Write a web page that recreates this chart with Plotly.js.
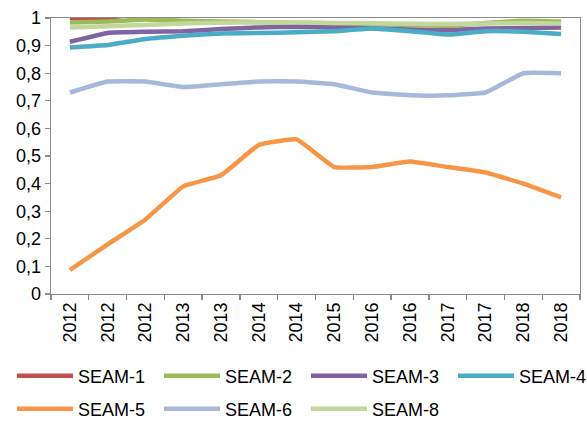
<!DOCTYPE html>
<html>
<head>
<meta charset="utf-8">
<script src="https://cdn.plot.ly/plotly-3.0.1.min.js"></script>
<style>html,body{margin:0;padding:0;background:#fff}#chart{width:587px;height:421px}</style>
</head>
<body>
<div id="chart"></div>
<script>
var categories = ["2012","2012","2012","2013","2013","2014","2014","2015","2016","2016","2017","2017","2018","2018"];
var seriesNames = ["SEAM-1","SEAM-2","SEAM-3","SEAM-4","SEAM-5","SEAM-6","SEAM-8"];
var seam1 = [1.00,1.00,1.02,1.02,1.02,1.02,1.02,1.02,1.02,1.02,1.02,1.02,1.02,1.02];
var seam2 = [0.984,0.987,0.995,0.99,0.987,0.985,0.983,0.98,0.978,0.975,0.972,0.982,0.99,0.987];
var seam3 = [0.914,0.946,0.95,0.952,0.96,0.966,0.968,0.966,0.963,0.958,0.956,0.962,0.964,0.966];
var seam4 = [0.893,0.902,0.924,0.936,0.944,0.946,0.948,0.952,0.962,0.952,0.94,0.952,0.95,0.942];
var seam5 = [0.087,0.18,0.27,0.39,0.43,0.54,0.56,0.46,0.46,0.48,0.46,0.44,0.40,0.35];
var seam6 = [0.73,0.77,0.77,0.75,0.76,0.77,0.77,0.76,0.73,0.72,0.72,0.73,0.80,0.80];
var seam8 = [0.966,0.97,0.975,0.98,0.983,0.984,0.984,0.982,0.981,0.979,0.978,0.98,0.982,0.98];
var yTicks = [0,0.1,0.2,0.3,0.4,0.5,0.6,0.7,0.8,0.9,1];

var seriesValues = [seam1,seam2,seam3,seam4,seam5,seam6,seam8];
var colors = ["#C0504D","#9BBB59","#8064A2","#4BACC6","#F79646","#A7B9DA","#C3D69B"];
var legends = ["legend","legend","legend","legend3","legend2","legend2","legend2"];
var xIdx = categories.map(function(_, i){ return i; });
var bounds = [];
for (var i = 0; i <= categories.length; i++) bounds.push(i - 0.5);

var traces = seriesNames.map(function(n, k){
  return {
    x: xIdx, y: seriesValues[k], name: n, type: "scatter", mode: "lines",
    line: {color: colors[k], width: 4.5, shape: "spline", smoothing: 0.3},
    legend: legends[k], hoverinfo: "skip"
  };
});
traces.push({x: [], y: [], xaxis: "x2", showlegend: false, hoverinfo: "skip"});

var fnt = {family: "Liberation Sans, Arial, sans-serif", size: 18, color: "#000"};
var lg = {
  orientation: "h", xref: "container", yref: "container", xanchor: "left", yanchor: "middle",
  font: fnt, itemwidth: 56, entrywidth: 76, entrywidthmode: "pixels",
  bgcolor: "rgba(0,0,0,0)", borderwidth: 0, itemclick: false, itemdoubleclick: false
};
var legend1 = Object.assign({}, lg, {x: 0.0204, y: 0.107});
var legend3 = Object.assign({}, lg, {x: 0.7717, y: 0.107});
var legend2 = Object.assign({}, lg, {x: 0.0204, y: 0.0285});

var layout = {
  width: 587, height: 421,
  margin: {l: 51, r: 7, t: 18, b: 127},
  paper_bgcolor: "#fff", plot_bgcolor: "#fff",
  separators: ", ",
  showlegend: true,
  legend: legend1, legend2: legend2, legend3: legend3,
  font: fnt,
  xaxis: {
    range: [-0.5, categories.length - 0.5], tickvals: xIdx, ticktext: categories,
    tickangle: -90, ticks: "", showgrid: false, zeroline: false,
    showline: true, mirror: true, linecolor: "#8c8c8c", linewidth: 1.3,
    tickfont: fnt, fixedrange: true
  },
  xaxis2: {
    overlaying: "x", range: [-0.5, categories.length - 0.5], tickvals: bounds,
    ticks: "outside", ticklen: 5, tickcolor: "#8c8c8c", tickwidth: 1.3,
    showticklabels: false, showgrid: false, zeroline: false, showline: false,
    side: "bottom", anchor: "y", fixedrange: true
  },
  yaxis: {
    range: [0, 1], tickvals: yTicks, ticks: "outside", ticklen: 5,
    tickcolor: "#8c8c8c", tickwidth: 1.3, showgrid: false, zeroline: false,
    showline: true, mirror: true, linecolor: "#8c8c8c", linewidth: 1.3,
    tickfont: fnt, fixedrange: true
  }
};

Plotly.newPlot("chart", traces, layout, {displayModeBar: false, staticPlot: true});
</script>
</body>
</html>
